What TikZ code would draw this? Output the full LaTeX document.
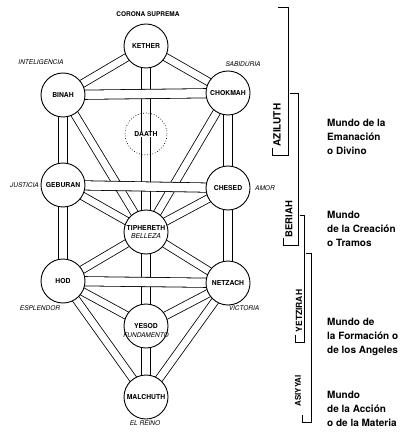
\documentclass[tikz,border=0pt]{standalone}
\usepackage{fontspec}
\setmainfont{TeX Gyre Heros}
\usetikzlibrary{backgrounds}

\tikzset{
  sefira/.style={circle, draw, line width=0.9pt, fill=white, minimum size=44pt, inner sep=0pt, align=center, font=\fontsize{6.8}{8.5}\selectfont\bfseries},
  senda/.style={draw, line width=0.8pt, double=white, double distance=7pt},
  senda recta/.style={senda, double distance=8.5pt},
  atributo/.style={inner sep=1pt, font=\fontsize{6.5}{7}\selectfont\itshape},
  corchete/.style={line width=0.9pt},
  mundo/.style={rotate=90, inner sep=0pt},
  texto/.style={anchor=west, align=left, inner sep=0pt, font=\fontsize{10}{14}\selectfont\bfseries}
}

\begin{document}
\begin{tikzpicture}[x=1pt, y=-1pt]
    \useasboundingbox (0,0) rectangle (400,446);

    % Sefirot
    \node[sefira] (kether) at (146,46) {KETHER};
    \node[sefira] (binah) at (63,95) {BINAH};
    \node[sefira] (chokmah) at (228,93) {CHOKMAH};
    \node[circle, draw, dotted, line width=0.7pt, minimum size=42pt] (daath) at (146,134) {};
    \node[fill=white, inner sep=0.6pt, font=\fontsize{6.8}{8}\selectfont\bfseries] (daathtxt) at (daath) {DAATH};
    \node[sefira] (geburan) at (63,185) {GEBURAN};
    \node[sefira] (chesed) at (228,188) {CHESED};
    \node[sefira] (tiphereth) at (146,232) {TIPHERETH\\{\mdseries\itshape BELLEZA}};
    \node[sefira] (hod) at (63,281) {HOD};
    \node[sefira] (netzach) at (228,283) {NETZACH};
    \node[sefira] (yesod) at (146,326) {YESOD};
    \node[sefira] (malchuth) at (146,397) {MALCHUTH};
    \node[atributo, inner sep=0pt] (fundamento) at (146,335.5) {FUNDAMENTO};

    % Senderos
    \begin{scope}[on background layer]
        \draw[senda] (kether.center) -- (binah.center);
        \draw[senda] (kether.center) -- (chokmah.center);
        \draw[senda recta] (kether.center) -- (tiphereth.center);
        \draw[senda recta] (binah.center) -- (geburan.center);
        \draw[senda] (binah.center) -- (tiphereth.center);
        \draw[senda recta] (chokmah.center) -- (chesed.center);
        \draw[senda] (chokmah.center) -- (tiphereth.center);
        \draw[senda] (geburan.center) -- (tiphereth.center);
        \draw[senda recta] (geburan.center) -- (hod.center);
        \draw[senda] (chesed.center) -- (tiphereth.center);
        \draw[senda recta] (chesed.center) -- (netzach.center);
        \draw[senda] (tiphereth.center) -- (hod.center);
        \draw[senda] (tiphereth.center) -- (netzach.center);
        \draw[senda recta] (tiphereth.center) -- (yesod.center);
        \draw[senda] (hod.center) -- (yesod.center);
        \draw[senda] (hod.center) -- (malchuth.center);
        \draw[senda] (netzach.center) -- (yesod.center);
        \draw[senda] (netzach.center) -- (malchuth.center);
        \draw[senda recta] (yesod.center) -- (malchuth.center);
        % Horizontales por encima
        \draw[senda recta] (binah.center) -- (chokmah.center);
        \draw[senda recta] (geburan.center) -- (chesed.center);
        \draw[senda recta] (hod.center) -- (netzach.center);
    \end{scope}

    % Atributos
    \node[atributo, font=\fontsize{6.5}{7}\selectfont\bfseries] (corona) at (148,14) {CORONA SUPREMA};
    \node[atributo] (inteligencia) at (41,62) {INTELIGENCIA};
    \node[atributo] (sabiduria) at (243,64) {SABIDURIA};
    \node[atributo, anchor=east] (justicia) at (40,185) {JUSTICIA};
    \node[atributo, anchor=west] (amor) at (254,188) {AMOR};
    \node[atributo] (esplendor) at (40,308) {ESPLENDOR};
    \node[atributo] (victoria) at (244,308) {VICTORIA};
    \node[atributo] (reino) at (145,423) {EL REINO};

    % Mundos
    \draw[corchete] (278,7) -- (288,7) -- (288,155) -- (272,155) -- (272,148);
    \draw[corchete] (290,93) -- (298,93) -- (298,245) -- (283,245) -- (283,238);
    \draw[corchete] (300,215) -- (304,215) -- (304,342) -- (295,342) -- (295,335);
    \draw[corchete] (306,253) -- (311,253) -- (311,422) -- (302,422) -- (302,415);
    \node[mundo, font=\fontsize{10}{10}\selectfont\bfseries] (aziluth) at (277,125) {AZILUTH};
    \node[mundo, font=\fontsize{9.5}{10}\selectfont\bfseries] (beriah) at (289,219) {BERIAH};
    \node[mundo, font=\fontsize{8.5}{10}\selectfont\bfseries] (yetzirah) at (299,311) {YETZIRAH};
    \node[mundo, font=\fontsize{8}{10}\selectfont\bfseries] (asiyyai) at (298,391) {ASIYYAI};

    % Textos
    \node[texto] (emanacion) at (327,137) {Mundo de la\\Emanación\\o Divino};
    \node[texto] (creacion) at (327,229) {Mundo\\de la Creación\\o Tramos};
    \node[texto] (formacion) at (327,337) {Mundo de\\la Formación o\\de los Angeles};
    \node[texto] (accion) at (327,409) {Mundo\\de la Acción\\o de la Materia};
\end{tikzpicture}
\end{document}
